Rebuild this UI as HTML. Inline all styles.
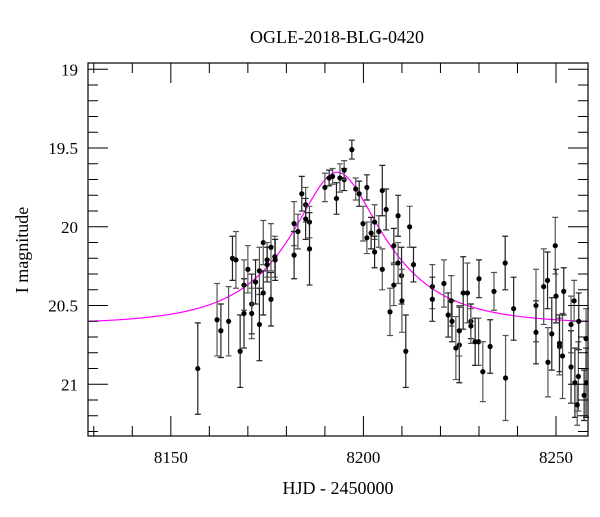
<!DOCTYPE html>
<html><head><meta charset="utf-8"><style>
html,body{margin:0;padding:0;background:#fff;}
svg text{font-family:"Liberation Serif",serif;fill:#000;}
</style></head><body>
<svg id="chart" width="600" height="512" viewBox="0 0 600 512" xmlns="http://www.w3.org/2000/svg">
<text x="337" y="43" font-size="18" text-anchor="middle">OGLE-2018-BLG-0420</text>
<text x="338" y="494" font-size="18" text-anchor="middle">HJD - 2450000</text>
<text x="0" y="0" font-size="18" text-anchor="middle" transform="translate(28,250) rotate(-90)">I magnitude</text>
<g id="plot"></g>
</svg>
<script>
const days = [8157.0,8162.0,8163.0,8165.0,8166.0,8166.9,8168.0,8169.0,8169.0,8170.0,8171.0,8171.0,8172.0,8173.0,8173.0,8174.0,8174.0,8175.0,8175.0,8176.0,8176.0,8177.0,8177.1,8182.0,8182.0,8183.0,8184.0,8185.0,8185.0,8186.0,8186.0,8190.0,8191.1,8192.0,8193.0,8193.9,8195.0,8195.0,8197.0,8198.0,8198.9,8199.9,8200.9,8200.9,8202.0,8202.9,8202.9,8204.0,8204.9,8204.9,8205.9,8206.9,8207.9,8207.9,8209.0,8209.0,8209.9,8210.0,8211.0,8212.0,8213.0,8217.9,8217.9,8220.9,8222.0,8222.8,8223.0,8224.0,8224.9,8224.9,8225.9,8227.0,8227.9,8227.9,8229.0,8229.9,8230.0,8231.0,8232.9,8233.9,8236.8,8236.9,8239.0,8244.8,8244.8,8246.8,8247.8,8247.9,8248.9,8249.8,8250.0,8250.9,8250.9,8251.7,8252.0,8253.9,8253.9,8254.7,8254.9,8255.8,8255.9,8257.8,8257.8,8255.5,8257.3];
const mags = [20.90,20.59,20.66,20.60,20.20,20.21,20.79,20.37,20.55,20.27,20.49,20.55,20.35,20.28,20.62,20.10,20.42,20.21,20.24,20.13,20.46,20.19,20.21,19.98,20.18,20.03,19.79,19.86,19.95,19.97,20.14,19.75,19.69,19.68,19.82,19.69,19.70,19.64,19.51,19.76,19.79,19.98,19.75,20.07,20.04,19.97,20.16,20.03,19.77,20.27,19.89,20.54,20.12,20.37,19.93,20.23,20.31,20.47,20.79,20.00,20.24,20.38,20.46,20.36,20.56,20.47,20.60,20.77,20.75,20.66,20.42,20.42,20.60,20.63,20.73,20.73,20.33,20.92,20.76,20.41,20.23,20.96,20.52,20.50,20.67,20.38,20.34,20.86,20.68,20.12,20.44,20.76,20.74,20.82,20.41,20.62,20.89,20.47,20.99,20.95,20.60,20.71,20.99,21.13,21.07];
const errs = [0.29,0.23,0.17,0.22,0.14,0.18,0.23,0.16,0.22,0.15,0.19,0.16,0.14,0.15,0.23,0.14,0.14,0.11,0.11,0.15,0.17,0.13,0.13,0.14,0.15,0.11,0.11,0.11,0.13,0.10,0.23,0.09,0.05,0.05,0.10,0.09,0.07,0.06,0.06,0.07,0.08,0.11,0.08,0.10,0.10,0.11,0.10,0.10,0.16,0.13,0.13,0.15,0.11,0.13,0.13,0.13,0.18,0.20,0.23,0.13,0.11,0.14,0.14,0.15,0.14,0.16,0.13,0.20,0.24,0.16,0.23,0.19,0.11,0.11,0.15,0.15,0.12,0.19,0.17,0.12,0.17,0.27,0.20,0.23,0.20,0.24,0.18,0.22,0.23,0.18,0.17,0.18,0.18,0.27,0.15,0.18,0.23,0.13,0.22,0.22,0.18,0.19,0.22,0.13,0.16];
const modelT0 = [8193.2];
const modelU0 = [0.44];
const modelTE = [22.3];
const modelBase = [20.62];
const xTickLabels = ["8150","8200","8250"];
const yTickLabels = ["19","19.5","20","20.5","21"];

const L=88,R=588,T=63,B=436;
const X0=8128.5, XS=3.852;
const x = d => L + (d - X0) * XS;
const y = m => 69.3 + (m - 19) * 157.5;
const NS="http://www.w3.org/2000/svg";
const g=document.getElementById('plot');
function mk(tag,attrs){const e=document.createElementNS(NS,tag);for(const k in attrs)e.setAttribute(k,attrs[k]);g.appendChild(e);return e;}

// model curve
let dstr="";
for(let t=X0;t<=X0+(R-L)/XS+0.01;t+=0.25){
  const tau=(t-modelT0[0])/modelTE[0];
  const u=Math.sqrt(tau*tau+modelU0[0]*modelU0[0]);
  const A=(u*u+2)/(u*Math.sqrt(u*u+4));
  const m=modelBase[0]-2.5*Math.log10(A);
  dstr+=(dstr?"L":"M")+x(t).toFixed(2)+","+y(m).toFixed(2);
}
const curve=mk('path',{d:dstr,fill:'none',stroke:'#ff00ff','stroke-width':1.2});



// data
for(let i=0;i<days.length;i++){
  const cx=x(days[i]), cy=y(mags[i]), e=errs[i]*157.5;
  const col = i%2 ? '#555' : '#222';
  const bar=mk('path',{d:`M${cx},${cy-e}V${cy+e}M${cx-3},${cy-e}H${cx+3}M${cx-3},${cy+e}H${cx+3}`,stroke:col,'stroke-width':1.2,fill:'none'});
  
  
  const pt=mk('circle',{cx:cx,cy:cy,r:2.6,fill:'#000'});
  
  
}

// frame
const fr=mk('rect',{x:L,y:T,width:R-L,height:B-T,fill:'none',stroke:'#000','stroke-width':1.2});



// x ticks
let td="";
for(let d=8130; d<=8258; d+=10){
  const px=x(d); const len=(d%50===0)?20:10;
  td+=`M${px},${B}V${B-len}M${px},${T}V${T+len}`;
}
for(let m=19;m<=21.31;m+=0.1){
  const r=Math.round(m*10); const py=y(r/10); const len=(r%5===0)?20:10;
  if(py<T||py>B)continue;
  td+=`M${L},${py}H${L+len}M${R},${py}H${R-len}`;
}
const ticks=mk('path',{d:td,stroke:'#000','stroke-width':1,fill:'none'});



xTickLabels.forEach(s=>{
  const t=mk('text',{x:x(+s),y:B+27,'font-size':17,'text-anchor':'middle'});
  t.textContent=s;
  
  
});
yTickLabels.forEach(s=>{
  const t=mk('text',{x:L-10,y:y(+s)+6,'font-size':17,'text-anchor':'end'});
  t.textContent=s;
  
  
});
</script>
</body></html>
